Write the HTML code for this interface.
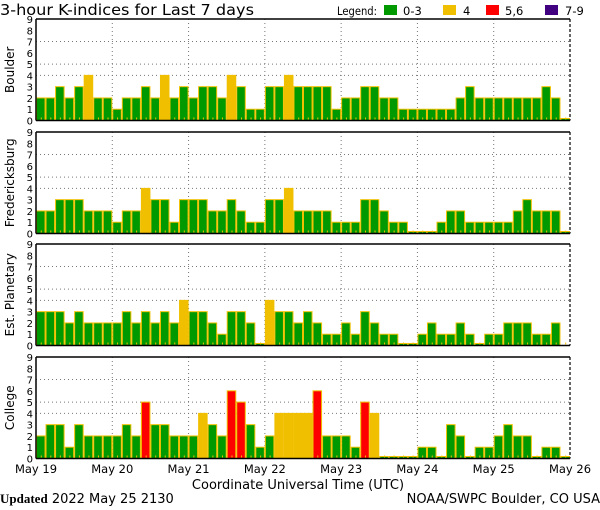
<!DOCTYPE html>
<html><head><meta charset="utf-8"><style>
body{margin:0;background:#fff;}
svg{display:block;}
text{font-family:"DejaVu Sans","Liberation Sans",sans-serif;}
</style></head><body>
<svg id="s" width="600" height="510" xmlns="http://www.w3.org/2000/svg"></svg>
<script>
const data=[
["Boulder",19,[2,2,3,2,3,4,2,2, 1,2,2,3,2,4,2,3, 2,3,3,2,4,3,1,1, 3,3,4,3,3,3,3,1, 2,2,3,3,2,2,1,1, 1,1,1,1,2,3,2,2, 2,2,2,2,2,3,2,0]],
["Fredericksburg",132,[2,2,3,3,3,2,2,2, 1,2,2,4,3,3,1,3, 3,3,2,2,3,2,1,1, 3,3,4,2,2,2,2,1, 1,1,3,3,2,1,1,0, 0,0,1,2,2,1,1,1, 1,1,2,3,2,2,2,0]],
["Est. Planetary",244,[3,3,3,2,3,2,2,2, 2,3,2,3,2,3,2,4, 3,3,2,1,3,3,2,0, 4,3,3,2,3,2,1,1, 2,1,3,2,1,1,0,0, 1,2,1,1,2,1,0,1, 1,2,2,2,1,1,2,null]],
["College",357,[2,3,3,1,3,2,2,2, 2,3,2,5,3,3,2,2, 2,4,3,2,6,5,3,1, 2,4,4,4,4,6,2,2, 2,1,5,4,0,0,0,0, 1,1,0,3,2,0,1,1, 2,3,2,2,0,1,1,0]]];
const L=36,R=570,H=101.5,U=H/9,BW=(R-L)/56;
let s='';
s+='<text x="0" y="15" font-size="15.5" textLength="254" lengthAdjust="spacingAndGlyphs">3-hour K-indices for Last 7 days</text>';
s+='<text x="337" y="15" font-size="11.5" textLength="40" lengthAdjust="spacingAndGlyphs">Legend:</text>';
[["#009900",384,"0-3",403],["#f0c000",443,"4",463],["#ff0000",486,"5,6",505],["#400080",545,"7-9",565]].forEach(l=>{
 s+=`<rect x="${l[1]}" y="5" width="13" height="10" fill="${l[0]}"/><text x="${l[3]}" y="15" font-size="11.5">${l[2]}</text>`;});
data.forEach(p=>{
 const T=p[1],B=T+H;
 [4,5,7].forEach(k=>{const y=B-k*U;s+=`<line x1="${L}" x2="${R}" y1="${y}" y2="${y}" stroke="#777" stroke-dasharray="1,3"/>`;});
 for(let d=1;d<7;d++){const x=L+d*8*BW;s+=`<line x1="${x}" x2="${x}" y1="${T}" y2="${B}" stroke="#777" stroke-dasharray="1,3"/>`;}
 p[2].forEach((v,i)=>{
  if(v===null)return;
  const x=L+i*BW;const h=v===0?2:v*U;
  const c=v<=3?"#009900":v==4?"#f0c000":v<=6?"#ff0000":"#400080";
  s+=`<rect x="${x+0.5}" y="${B-h}" width="${BW-1}" height="${h}" fill="${c}" stroke="#f0c000" stroke-width="1"/>`;
 });
 for(let i=0;i<56;i++){const x=L+i*BW+BW/2;s+=`<rect x="${x}" y="${B-3}" width="1" height="2" fill="#f0c000"/>`;}
 s+=`<line x1="${L}" x2="${R}" y1="${T}" y2="${T}" stroke="#000" stroke-width="1.5"/>`;
 s+=`<line x1="${L}" x2="${R}" y1="${B}" y2="${B}" stroke="#000" stroke-width="1.5"/>`;
 s+=`<line x1="${L}" x2="${L}" y1="${T}" y2="${B}" stroke="#000" stroke-width="1.5"/>`;
 s+=`<line x1="${R}" x2="${R}" y1="${T}" y2="${B}" stroke="#000" stroke-width="1.2" stroke-dasharray="3,2"/>`;
 for(let k=0;k<=9;k++){s+=`<text x="33" y="${B-k*U+4}" font-size="10" text-anchor="end">${k}</text>`;}
 s+=`<text transform="translate(14,${T+H/2}) rotate(-90)" font-size="12" text-anchor="middle">${p[0]}</text>`;
});
["May 19","May 20","May 21","May 22","May 23","May 24","May 25","May 26"].forEach((t,i)=>{
 s+=`<text x="${L+i*8*BW}" y="473" font-size="11.5" text-anchor="middle">${t}</text>`;});
s+='<text x="298" y="489" font-size="13" text-anchor="middle">Coordinate Universal Time (UTC)</text>';
s+='<text x="0" y="503" font-size="13"><tspan font-weight="bold" font-family="Liberation Serif, serif">Updated</tspan> 2022 May 25 2130</text>';
s+='<text x="600" y="503" font-size="13" text-anchor="end">NOAA/SWPC Boulder, CO USA</text>';
document.getElementById('s').innerHTML=s;
</script>
</body></html>
